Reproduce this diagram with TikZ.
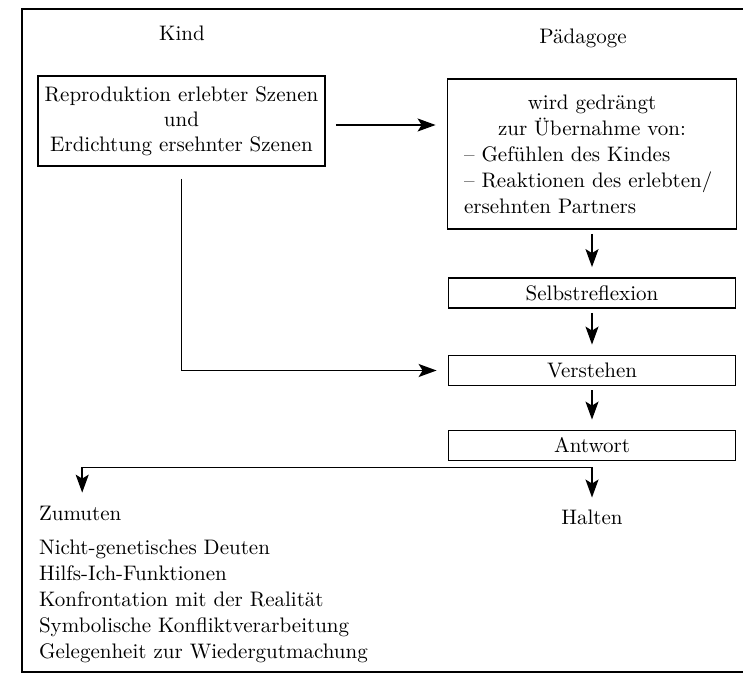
\documentclass[tikz,border=0pt]{standalone}
\usepackage{fontspec}
\usetikzlibrary{arrows.meta}

\begin{document}
\begin{tikzpicture}[x=.5pt, y=-.5pt, font=\fontsize{10.5}{12.5}\selectfont,
    box/.style={draw, line width=.9pt, inner sep=2pt, align=center},
    smallbox/.style={box, minimum width=143.5pt, minimum height=15pt},
    arr/.style={draw, line width=.8pt, -{Stealth[length=9pt, width=6.5pt, inset=2pt]}}]
    \useasboundingbox (0,0) rectangle (743,678);
    % frame, open to the right as in the scan
    \draw[line width=.9pt] (743,9) -- (22,9) -- (22,672) -- (743,672);
    % headings
    \node (kind) at (182,33) {Kind};
    \node (paed) at (583,38) {Pädagoge};
    % child
    \node[box, minimum width=143.5pt, minimum height=45pt] (szenen) at (181.5,121)
        {Reproduktion erlebter Szenen\\ und\\ Erdichtung ersehnter Szenen};
    % educator
    \node[box, minimum width=144.5pt, minimum height=75pt, text width=128pt, align=left,
          font=\fontsize{10.5}{13}\selectfont] (uebernahme) at (592,154)
        {\centering wird gedrängt\\ zur Übernahme von:\par\raggedright
         -- Gefühlen des Kindes\\ -- Reaktionen des erlebten/\\ ersehnten Partners};
    \node[smallbox] (selbst) at (592,293) {Selbstreflexion};
    \node[smallbox] (verstehen) at (592,370.5) {Verstehen};
    \node[smallbox] (antwort) at (592,445.5) {Antwort};
    % answers
    \node[anchor=west] (zumuten) at (32,513) {Zumuten};
    \node[anchor=north west, align=left, font=\fontsize{10.5}{13}\selectfont] (liste) at (32,533)
        {Nicht-genetisches Deuten\\ Hilfs-Ich-Funktionen\\ Konfrontation mit der Realität\\
         Symbolische Konfliktverarbeitung\\ Gelegenheit zur Wiedergutmachung};
    \node (halten) at (592,517) {Halten};
    % connectors
    \coordinate (c1) at ([xshift=5pt, yshift=-2pt]szenen.east);
    \draw[arr, shorten >=5.5pt] (c1) -- (c1 -| uebernahme.west);
    \draw[arr, shorten >=5.5pt] ([yshift=-6pt]szenen.south) |- (verstehen.west);
    \foreach \a/\b in {uebernahme/selbst, selbst/verstehen, verstehen/antwort}
        \draw[arr, shorten <=2pt, shorten >=5pt] (\a.south) -- (\b.north);
    \coordinate (fork) at ([yshift=-3pt]antwort.south);
    \draw[arr, shorten >=3pt] (fork) -| ([xshift=1pt]zumuten.north);
    \draw[arr, shorten >=2.5pt] (fork) -- (fork |- halten.north);
\end{tikzpicture}
\end{document}
